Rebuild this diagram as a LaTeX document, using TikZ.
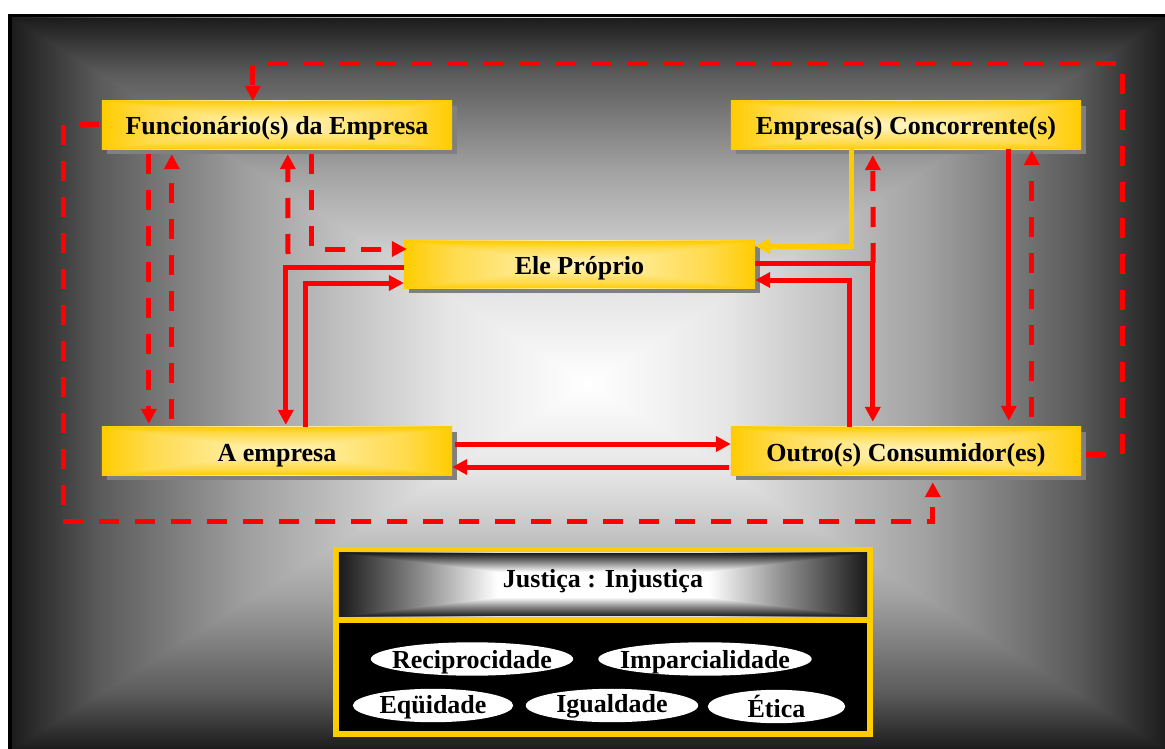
\documentclass[tikz,border=0pt]{standalone}
\usepackage{fontspec}
\setmainfont{Liberation Serif}
\usetikzlibrary{arrows.meta,calc,shapes.geometric}

\definecolor{gold}{HTML}{FFCC00}
\definecolor{goldmid}{HTML}{FFDA4A}
\definecolor{cream}{HTML}{FFF6C6}
\definecolor{edgegrey}{HTML}{1C1C1C}
\definecolor{greyA}{HTML}{5A5A5A}
\definecolor{greyB}{HTML}{A0A0A0}
\definecolor{greyC}{HTML}{E6E6E6}
\definecolor{bandedge}{HTML}{1A1A1A}
\definecolor{bandmid}{HTML}{888888}
\definecolor{shadowgrey}{HTML}{808080}
\definecolor{linkred}{HTML}{FF0000}

% symmetric ramps: 25bp and 75bp = outer edges, 50bp = centre of the shaded area
\pgfdeclarehorizontalshading{greyramp}{100bp}{color(0bp)=(edgegrey); color(25bp)=(edgegrey); color(28.75bp)=(greyA); color(35.25bp)=(greyB); color(44bp)=(greyC); color(50bp)=(white); color(56bp)=(greyC); color(64.75bp)=(greyB); color(71.25bp)=(greyA); color(75bp)=(edgegrey); color(100bp)=(edgegrey)}
\pgfdeclarehorizontalshading{goldramp}{100bp}{color(0bp)=(gold); color(25bp)=(gold); color(31.5bp)=(goldmid); color(50bp)=(cream); color(68.5bp)=(goldmid); color(75bp)=(gold); color(100bp)=(gold)}
\pgfdeclarehorizontalshading{bandramp}{100bp}{color(0bp)=(bandedge); color(25bp)=(bandedge); color(32.5bp)=(bandmid); color(40bp)=(white); color(60bp)=(white); color(67.5bp)=(bandmid); color(75bp)=(bandedge); color(100bp)=(bandedge)}

\pgfdeclarelayer{pagebg}
\pgfdeclarelayer{boxbg}
\pgfsetlayers{pagebg,boxbg,main}

% rectangular "from centre" gradient between two opposite corners:
% horizontal ramp over the whole area, vertical ramp over the top and bottom wedges
\newcommand\rectshade[3]{%
  \coordinate (rs-a) at (#1);
  \coordinate (rs-c) at (#2);
  \coordinate (rs-b) at (#1 -| #2);
  \coordinate (rs-d) at (#1 |- #2);
  \coordinate (rs-m) at ($(rs-a)!0.5!(rs-c)$);
  \shade[shading=#3] (rs-a) rectangle (rs-c);
  \shade[shading=#3,shading angle=90] (rs-a) -- (rs-b) -- (rs-m) -- cycle
                                      (rs-d) -- (rs-c) -- (rs-m) -- cycle;
}

\tikzset{
  lbl/.style={font=\fontsize{26}{28}\selectfont\bfseries, text=black},
  actor/.style={lbl, rectangle, inner sep=0pt, minimum width=350pt, minimum height=48pt,
                text height=22pt, text depth=2pt},
  valueoval/.style={lbl, rectangle, inner sep=0pt, minimum height=33pt,
                    text height=18pt, text depth=0pt},
  sline/.style={draw=linkred, line width=5pt},
  dline/.style={sline, dash pattern=on 20pt off 16pt},
  gline/.style={draw=gold, line width=5pt},
  tip/.style={-{Triangle[length=15pt,width=15pt]}},
}

\begin{document}
\begin{tikzpicture}[x=1pt,y=-1pt]
\useasboundingbox (0,0) rectangle (1165,749);

% page background
\begin{pgfonlayer}{pagebg}
  \fill[white] (0,0) rectangle (1165,749);
  \fill[black] (8,14) rectangle (1165,749);
  \coordinate (pgNW) at (12,18);
  \coordinate (pgSE) at (1165,749);
  \rectshade{pgNW}{pgSE}{greyramp}
\end{pgfonlayer}

% actors
\node[actor] (f) at (277,125) {Funcionário(s) da Empresa};
\node[actor] (c) at (906,125) {Empresa(s) Concorrente(s)};
\node[actor, minimum width=351pt, minimum height=47pt] (e) at (579.5,264.5) {Ele Próprio};
\node[actor] (a) at (277,451) {A empresa};
\node[actor] (o) at (906,451) {Outro(s) Consumidor(es)};

% legend panel
\node[inner sep=0pt, minimum width=540pt, minimum height=190pt] (jframe) at (603,642) {};
\node[lbl, inner sep=0pt, minimum width=528pt, minimum height=63pt,
      text height=10pt, text depth=5pt] (jband) at (603,584.5) {Justiça : Injustiça};
\node[inner sep=0pt, minimum width=528pt, minimum height=108pt] (jvals) at (603,677) {};

\node[valueoval, minimum width=202pt] (vrec) at (472,659) {Reciprocidade};
\node[valueoval, minimum width=213pt] (vimp) at (705,659) {Imparcialidade};
\node[valueoval, minimum width=160pt, text height=15pt] (veq) at (433,705.5) {Eqüidade};
\node[valueoval, minimum width=172pt, text height=13pt] (vig) at (612,705.5) {Igualdade};
\node[valueoval, minimum width=137pt, text height=21pt] (vet) at (776.5,706.5) {Ética};

% box shadows and fills
\begin{pgfonlayer}{boxbg}
  \foreach \v in {f,c,e,a,o}{
    \fill[shadowgrey] ($(\v.north west)+(5,5)$) rectangle ($(\v.south east)+(5,5)$);
  }
  \rectshade{f.north west}{f.south east}{goldramp}
  \rectshade{c.north west}{c.south east}{goldramp}
  \rectshade{e.north west}{e.south east}{goldramp}
  \rectshade{a.north west}{a.south east}{goldramp}
  \rectshade{o.north west}{o.south east}{goldramp}
  \fill[gold] (jframe.north west) rectangle (jframe.south east);
  \rectshade{jband.north west}{jband.south east}{bandramp}
  \fill[black] (jvals.north west) rectangle (jvals.south east);
  % white ovals behind the value labels
  \foreach \v in {vrec,vimp,veq,vig,vet}{
    \fill[white] let \p1=($(\v.north east)-(\v.center)$) in
      (\v.center) ellipse [x radius=\x1, y radius=\y1];
  }
\end{pgfonlayer}

% bend points
\coordinate (topR) at (1122,64);
\coordinate (botL) at (63,521);
\coordinate (jR) at ($(e.east)+(118,-1.5)$);
\coordinate (upF) at (288,254);

% outer dashed loops
\draw[dline,tip] ($(o.east)+(5,3)$) -| (topR) -| ($(f.north west)+(151,0)$);
\draw[dline,tip] ($(f.west)+(-3,0)$) -| (botL) -| ($(o.south west)+(202,7)$);

% Funcionario <-> A empresa
\draw[dline,tip] ($(f.south west)+(47,5)$) -- ($(a.north west)+(47,-3)$);
\draw[dline,tip] ($(a.north west)+(70,-8)$) -- ($(f.south west)+(70,5)$);

% Funcionario <-> Ele Proprio
\draw[dline,tip] (upF) -- ($(f.south west)+(186,5)$);
\draw[dline,tip] ($(f.south west)+(210,5)$) |- ($(e.west)+(3,-15.5)$);

% Ele Proprio <-> A empresa
\draw[sline,tip] ($(e.west)+(0,2.5)$) -| ($(a.north west)+(184,-2)$);
\draw[sline,tip] ($(a.north west)+(204,0)$) |- ($(e.west)+(0,18.5)$);

% Concorrente -> Ele Proprio
\draw[gline,tip] ($(c.south west)+(121,0)$) |- ($(e.east)+(0,-18.5)$);

% Ele Proprio <-> Outro
\draw[sline,tip] ($(e.east)+(0,-1.5)$) -| ($(o.north west)+(142,-5)$);
\draw[sline,tip] ($(o.north west)+(119,0)$) |- ($(e.east)+(0,15.5)$);
\draw[dline,tip] (jR) -- ($(c.south west)+(142,6)$);

% Concorrente <-> Outro
\draw[sline,tip] ($(c.south west)+(278,0)$) -- ($(o.north west)+(278,-6)$);
\draw[dline,tip] ($(o.north west)+(301,-10)$) -- ($(c.south west)+(301,1)$);

% A empresa <-> Outro
\draw[sline,tip] ($(a.east)+(3,-7)$) -- ($(o.west)+(0,-7)$);
\draw[sline,tip] ($(o.west)+(-2,16)$) -- ($(a.east)+(0,16)$);
\end{tikzpicture}
\end{document}
